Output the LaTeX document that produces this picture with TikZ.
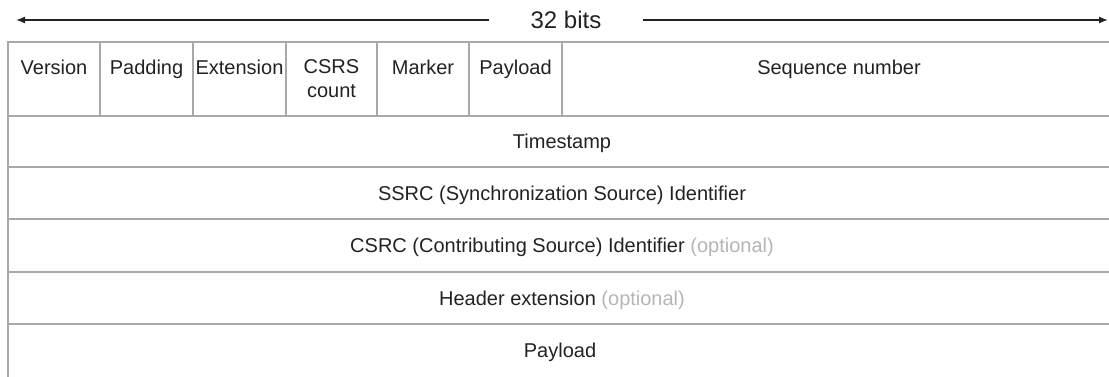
\documentclass[tikz,border=0pt]{standalone}
\usepackage{fontspec}
\setmainfont{Liberation Sans}
\usetikzlibrary{arrows.meta}
\definecolor{gridgray}{HTML}{A8A8A8}
\definecolor{ink}{HTML}{222222}
\definecolor{optgray}{HTML}{B5B5B5}
\newcommand{\opt}[1]{\textcolor{optgray}{#1}}
\tikzset{
  grid/.style={draw=gridgray, line width=2pt},
  span/.style={draw=ink, line width=1.3pt},
  field/.style={text=ink, font=\fontsize{20}{24}\selectfont, inner sep=0pt, anchor=base},
  title/.style={text=ink, font=\fontsize{24}{28}\selectfont, inner ysep=0pt, inner xsep=41pt}
}
\begin{document}
\begin{tikzpicture}[x=1pt, y=-1pt]
  \useasboundingbox (0,0) rectangle (1109,376);

  % width marker over the header
  \node[title] (bits) at (566,20) {32 bits};
  \coordinate (lend) at (16,20);
  \coordinate (rend) at (1108,20);
  \draw[span, -{Latex[length=9pt, width=7pt]}] (bits.west) -- (lend);
  \draw[span, -{Latex[length=9pt, width=7pt]}] (bits.east) -- (rend);

  % outer left edge and horizontal row rules
  \draw[grid] (7.5,42) -- (7.5,377);
  \foreach \y in {42,116,167,219,272,324}
    \draw[grid] (6.5,\y) -- (1110,\y);

  % first-row field separators
  \foreach \x in {100,193,286,377,469,562}
    \draw[grid] (\x,42) -- (\x,116);

  % first-row field names
  \node[field] (version) at (54,74) {Version};
  \node[field] (padding) at (146.5,74) {Padding};
  \node[field] (extension) at (239.5,74) {Extension};
  \node[field, align=center, anchor=north, text depth=0pt] (csrc) at (331.5,59) {CSRS\\count};
  \node[field] (marker) at (423,74) {Marker};
  \node[field] (ptype) at (515.5,74) {Payload};
  \node[field] (seq) at (839,74) {Sequence number};

  % full-width fields
  \node[field] (ts) at (562,148.7) {Timestamp};
  \node[field] (ssrc) at (562,200.2) {SSRC (Synchronization Source) Identifier};
  \node[field] (csrcid) at (562,252.7) {CSRC (Contributing Source) Identifier \opt{(optional)}};
  \node[field] (hext) at (562,305) {Header extension \opt{(optional)}};
  \node[field] (payload) at (560,357) {Payload};
\end{tikzpicture}
\end{document}
